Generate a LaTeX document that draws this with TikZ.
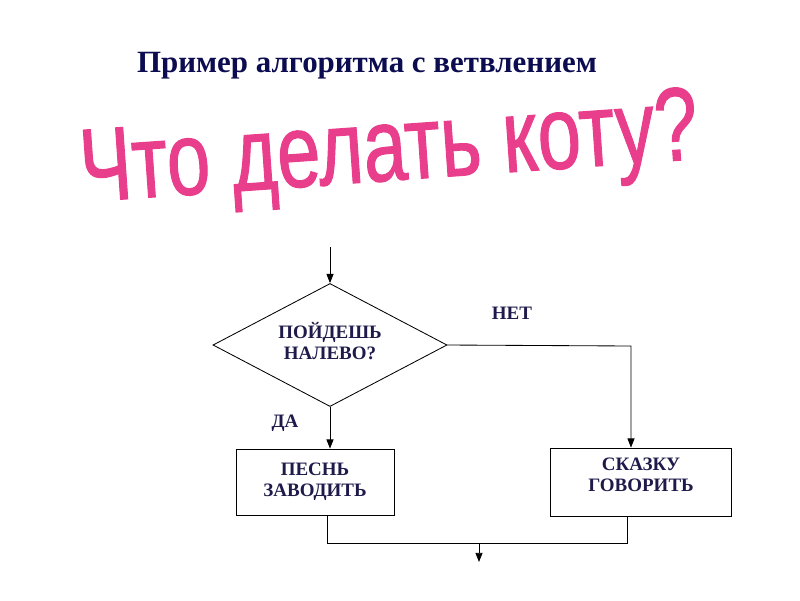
\documentclass[tikz,border=0pt]{standalone}
\usepackage{fontspec}
\setmainfont{Liberation Serif}
\newfontfamily\pinkfont[FakeBold=1.2]{Liberation Sans}
\usetikzlibrary{shapes.geometric,arrows.meta}

\definecolor{titleblue}{RGB}{12,12,80}
\definecolor{labelblue}{RGB}{30,26,74}
\definecolor{catpink}{RGB}{232,62,140}

\tikzset{
  flow/.style={line width=0.6pt},
  arr/.style={flow,-{Triangle[length=6.5pt,width=5pt]}},
  lbl/.style={text=labelblue,font=\fontsize{13.5}{15}\selectfont\bfseries,align=center},
  actbox/.style={draw,line width=0.6pt,lbl,inner sep=0pt}
}

\begin{document}
\begin{tikzpicture}[x=0.025cm,y=-0.025cm]

\useasboundingbox (0,0) rectangle (800,600);

\node[text=titleblue,font=\fontsize{22}{26}\selectfont\bfseries,anchor=base] (title) at (367,72) {Пример алгоритма с ветвлением};
\node[text=catpink,font=\pinkfont\fontsize{74}{74}\selectfont,anchor=base west,inner sep=0pt,rotate=4,xscale=0.75] (question) at (82,202) {Что делать коту?};

\node[diamond,draw,line width=0.6pt,lbl,aspect=1.9,inner sep=0pt,text depth=0.2cm,minimum width=5.85cm,minimum height=3.075cm] (left) at (330,345) {ПОЙДЕШЬ\\НАЛЕВО?};
\node[actbox,text depth=0.1cm,minimum width=3.95cm,minimum height=1.65cm] (song) at (315,482) {ПЕСНЬ\\ЗАВОДИТЬ};
\node[actbox,text depth=0.35cm,minimum width=4.525cm,minimum height=1.7cm] (tale) at (641,482) {СКАЗКУ\\ГОВОРИТЬ};

\node[lbl] (yes) at (285,423) {ДА};
\node[lbl] (no) at (512,313) {НЕТ};

\coordinate (start) at (330,247);
\coordinate (nocorner) at (631,346);
\coordinate (joinL) at (327,543);
\coordinate (joinR) at (627,543);
\coordinate (joinM) at (479,543);
\coordinate (finish) at (479,562);

\draw[arr] (start) -- (left.north);
\draw[arr] (left.south) -- (left.south |- song.north);
\draw[arr] (left.east) -- (nocorner) -- (nocorner |- tale.north);

\draw[flow] (joinL |- song.south) -- (joinL) -- (joinR) -- (joinR |- tale.south);
\draw[arr] (joinM) -- (finish);

\end{tikzpicture}
\end{document}
